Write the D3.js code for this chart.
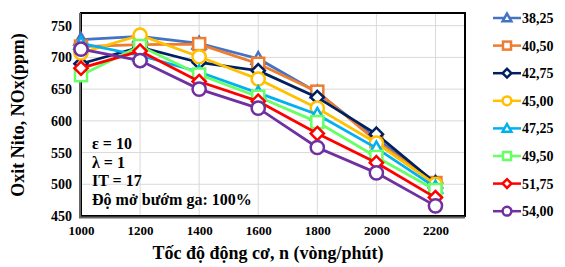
<!DOCTYPE html>
<html><head><meta charset="utf-8">
<script src="https://cdn.jsdelivr.net/npm/d3@7"></script>
<style>
body{margin:0;background:#fff;}
text{font-family:"Liberation Serif","Times New Roman",serif;font-weight:bold;fill:#000;}
</style></head>
<body><svg id="c" width="565" height="267"></svg>
<script>
const speeds = [1000, 1200, 1400, 1600, 1800, 2000, 2200];
const seriesNames = ["38,25","40,50","42,75","45,00","47,25","49,50","51,75","54,00"];
const s3825 = [728, 733, 722, 698, 645, 572, 503];
const s4050 = [717, 720, 721, 690, 646, 568, 502];
const s4275 = [690, 716, 692, 679, 637, 579, 502];
const s4500 = [707, 735, 701, 666, 620, 565, 500];
const s4725 = [722, 703, 677, 644, 610, 557, 495];
const s4950 = [672, 718, 673, 638, 598, 543, 491];
const s5175 = [683, 710, 662, 631, 580, 534, 479];
const s5400 = [713, 695, 650, 620, 558, 518, 466];
const yTicks = [450, 500, 550, 600, 650, 700, 750];
const xTicks = [1000, 1200, 1400, 1600, 1800, 2000, 2200];
const notes = ["ε = 10", "λ = 1", "IT = 17", "Độ mở bướm ga: 100%"];

const allValues = [s3825, s4050, s4275, s4500, s4725, s4950, s5175, s5400];
const colors = ["#4472C4","#ED7D31","#002060","#FFC000","#00B0F0","#66FF66","#FF0000","#7030A0"];
const shapes = ["tri","sq","dia","circ","tri","sq","dia","circ"];

const svg = d3.select("#c");
const L = 81, R = 465, T = 13, B = 216;
const x = d3.scaleLinear().domain([1000, 2300]).range([L, R]);
const y = d3.scaleLinear().domain([450, 770]).range([B, T]);

// gridlines
svg.append("g").selectAll("line").data(yTicks.slice(1)).join("line")
  .attr("x1", L).attr("x2", R).attr("y1", d => y(d)).attr("y2", d => y(d))
  .attr("stroke", "#d9d9d9").attr("stroke-width", 1);
svg.append("g").selectAll("line").data(xTicks.slice(1)).join("line")
  .attr("y1", T).attr("y2", B).attr("x1", d => x(d)).attr("x2", d => x(d))
  .attr("stroke", "#d9d9d9").attr("stroke-width", 1);

// frame
svg.append("rect").attr("x", L).attr("y", T).attr("width", R - L).attr("height", B - T)
  .attr("fill", "none").attr("stroke", "#000").attr("stroke-width", 2);
svg.append("line").attr("x1", L - 1).attr("x2", L - 1).attr("y1", T).attr("y2", B + 2)
  .attr("stroke", "#666").attr("stroke-width", 2);
svg.append("line").attr("x1", L - 2).attr("x2", R).attr("y1", B + 1.5).attr("y2", B + 1.5)
  .attr("stroke", "#666").attr("stroke-width", 2);

// axes labels
const yAxis = d3.axisLeft(y).tickValues(yTicks).tickFormat(d3.format("d")).tickSize(0).tickPadding(9);
const gy = svg.append("g").attr("transform", `translate(${L},0)`).call(yAxis)
  .attr("font-family", "Liberation Serif").attr("font-size", 14).attr("font-weight", "bold");
gy.select(".domain").remove();

const xAxis = d3.axisBottom(x).tickValues(xTicks).tickFormat(d3.format("d")).tickSize(0).tickPadding(10);
const gx = svg.append("g").attr("transform", `translate(0,${B})`).call(xAxis)
  .attr("font-family", "Liberation Serif").attr("font-size", 13).attr("font-weight", "bold");
gx.select(".domain").remove();

svg.append("text").attr("transform", "translate(24,115) rotate(-90)")
  .attr("text-anchor", "middle").style("font-size", "18px").text("Oxit Nito, NOx(ppm)");
svg.append("text").attr("x", 268).attr("y", 259).attr("text-anchor", "middle")
  .style("font-size", "18px").text("Tốc độ động cơ, n (vòng/phút)");

// notes
svg.append("g").selectAll("text").data(notes).join("text")
  .attr("x", 92).attr("y", (d, i) => 149 + i * 18.7)
  .style("font-size", "16px").text(d => d);

function marker(g, shape, color, cx, cy, s) {
  if (shape === "circ") {
    g.append("circle").attr("cx", cx).attr("cy", cy).attr("r", s * 0.55)
      .attr("fill", "#fff").attr("stroke", color).attr("stroke-width", 2.5);
  } else if (shape === "sq") {
    g.append("rect").attr("x", cx - s / 2).attr("y", cy - s / 2).attr("width", s).attr("height", s)
      .attr("fill", "#fff").attr("stroke", color).attr("stroke-width", 2.5);
  } else if (shape === "dia") {
    const h = s * 0.55;
    g.append("path").attr("d", `M${cx},${cy-h}L${cx+h},${cy}L${cx},${cy+h}L${cx-h},${cy}Z`)
      .attr("fill", "#fff").attr("stroke", color).attr("stroke-width", 2.5);
  } else {
    const h = s * 0.55;
    g.append("path").attr("d", `M${cx},${cy-h}L${cx+h},${cy+h*0.75}L${cx-h},${cy+h*0.75}Z`)
      .attr("fill", "#fff").attr("stroke", color).attr("stroke-width", 2.5);
  }
}

const line = d3.line().x((d, i) => x(speeds[i])).y(d => y(d));
allValues.forEach((vals, k) => {
  const g = svg.append("g");
  g.append("path").datum(vals).attr("d", line).attr("fill", "none")
    .attr("stroke", colors[k]).attr("stroke-width", 2.8);
  vals.forEach((v, i) => marker(g, shapes[k], colors[k], x(speeds[i]), y(v), 12));
});

// legend
const lg = svg.append("g");
seriesNames.forEach((n, k) => {
  const cy = 18 + k * 27.6;
  lg.append("line").attr("x1", 493).attr("x2", 521).attr("y1", cy).attr("y2", cy)
    .attr("stroke", colors[k]).attr("stroke-width", 2.5);
  marker(lg, shapes[k], colors[k], 507, cy, 8);
  lg.append("text").attr("x", 522).attr("y", cy + 5).style("font-size", "14px").text(n);
});
</script></body></html>
